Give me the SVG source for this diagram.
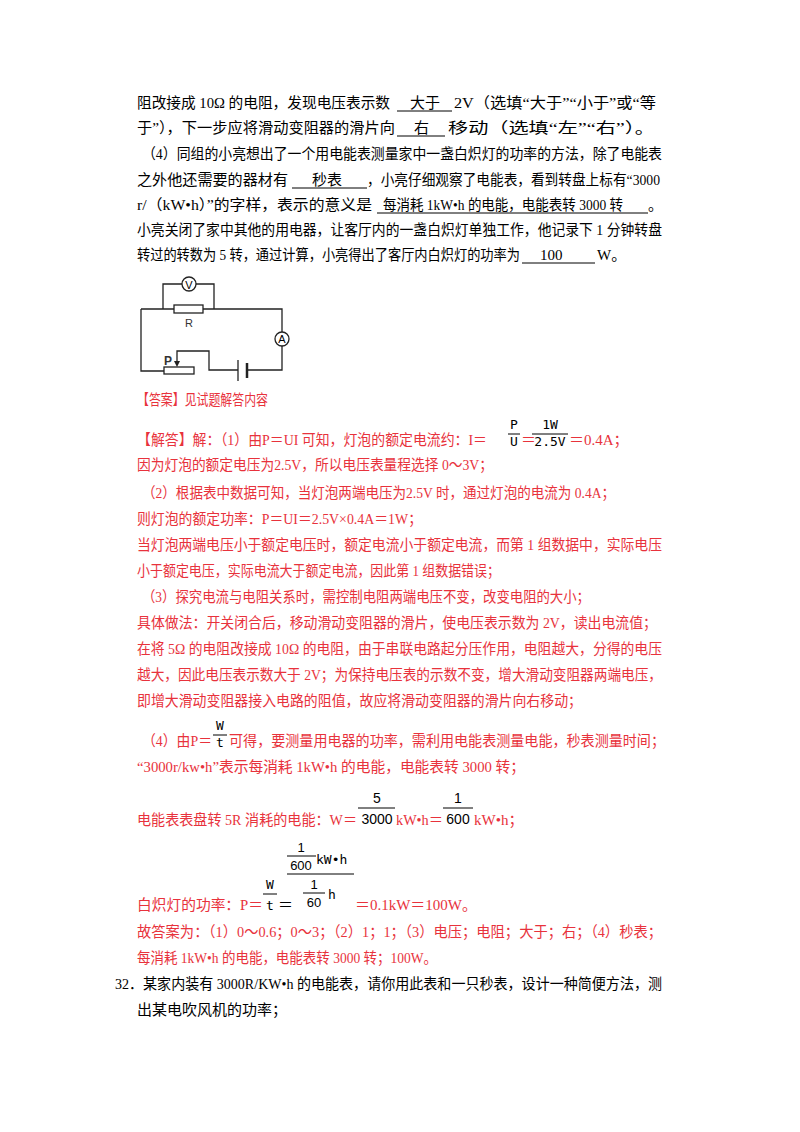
<svg xmlns="http://www.w3.org/2000/svg" width="800" height="1132" viewBox="0 0 800 1132">
<style>
text{font-family:"Liberation Serif","Noto Sans CJK SC",serif;font-size:15px;fill:#000}
.r{fill:#e8323c}
.m{font-family:"DejaVu Sans Mono","Liberation Mono",monospace;font-size:13px;fill:#000}
.c{text-anchor:middle}
.u{stroke:#000;stroke-width:1}
.fl{stroke:#000;stroke-width:1}
.w{fill:none;stroke:#222;stroke-width:1.3}
</style>
<rect width="800" height="1132" fill="#fff"/>
<text x="137" y="108" textLength="253" lengthAdjust="spacingAndGlyphs">阻改接成 10Ω 的电阻，发现电压表示数</text>
<text x="410" y="108">大于</text><line class="u" x1="397" y1="111" x2="452" y2="111"/>
<text x="454" y="108" textLength="202" lengthAdjust="spacingAndGlyphs">2V（选填“大于”“小于”或“等</text>
<text x="137" y="133" textLength="258" lengthAdjust="spacingAndGlyphs">于”），下一步应将滑动变阻器的滑片向</text>
<text x="414" y="133">右</text><line class="u" x1="397" y1="136" x2="445" y2="136"/>
<text x="448" y="133" textLength="207" lengthAdjust="spacingAndGlyphs">移动（选填“左”“右”）。</text>
<text x="142" y="159" textLength="520" lengthAdjust="spacingAndGlyphs">（4）同组的小亮想出了一个用电能表测量家中一盏白炽灯的功率的方法，除了电能表</text>
<text x="137" y="185" textLength="151" lengthAdjust="spacingAndGlyphs">之外他还需要的器材有</text>
<text x="312" y="185">秒表</text><line class="u" x1="292" y1="188" x2="367" y2="188"/>
<text x="367" y="185" textLength="293" lengthAdjust="spacingAndGlyphs">，小亮仔细观察了电能表，看到转盘上标有“3000</text>
<text x="137" y="210" textLength="235" lengthAdjust="spacingAndGlyphs">r/（kW•h）”的字样，表示的意义是</text>
<text x="383" y="210" textLength="240" lengthAdjust="spacingAndGlyphs">每消耗 1kW•h 的电能，电能表转 3000 转</text><line class="u" x1="377" y1="213" x2="648" y2="213"/>
<text x="648" y="210">。</text>
<text x="137" y="235" textLength="525" lengthAdjust="spacingAndGlyphs">小亮关闭了家中其他的用电器，让客厅内的一盏白炽灯单独工作，他记录下 1 分钟转盘</text>
<text x="137" y="260" textLength="383" lengthAdjust="spacingAndGlyphs">转过的转数为 5 转，通过计算，小亮得出了客厅内白炽灯的功率为</text>
<text x="540" y="260">100</text><line class="u" x1="522" y1="263" x2="595" y2="263"/>
<text x="597" y="260">W。</text>

<g id="circuit">
<g id="wires">
<path class="w" d="M163 309V284H182M196 284H214V309"/>
<path class="w" d="M141 309H174M203 309H282V332M282 346V370H247M238 370H209V351H177V363M141 309V371H164"/>
</g>
<g id="voltmeter"><circle class="w" cx="189" cy="284" r="7"/><text x="189" y="288.5" class="c" style="font-family:'Liberation Sans',sans-serif;font-size:11px">V</text></g>
<g id="resistor"><rect class="w" x="174" y="305" width="29" height="8"/><text x="189" y="327" class="c" style="font-family:'Liberation Sans',sans-serif;font-size:11px;fill:#333">R</text></g>
<g id="ammeter"><circle class="w" cx="282" cy="339" r="7"/><text x="282" y="343" class="c" style="font-family:'Liberation Sans',sans-serif;font-size:11px">A</text></g>
<g id="battery"><line x1="238" y1="360" x2="238" y2="381" stroke="#222" stroke-width="1.3"/><line x1="247" y1="363" x2="247" y2="378" stroke="#222" stroke-width="2.5"/></g>
<g id="rheostat"><rect class="w" x="164" y="367" width="30" height="7"/><path d="M174 361L177 367L180 361Z" fill="#222"/><text x="164" y="365" style="font-family:'Liberation Sans',sans-serif;font-size:12px;font-weight:bold;fill:#333">P</text></g>
</g>

<text x="137" y="405" class="r" textLength="131" lengthAdjust="spacingAndGlyphs">【答案】见试题解答内容</text>
<text x="137" y="445" class="r" textLength="350" lengthAdjust="spacingAndGlyphs">【解答】解：（1）由P＝UI 可知，灯泡的额定电流约：I＝</text>
<text x="514" y="429" class="m c">P</text><line class="fl" x1="508" y1="434" x2="520" y2="434"/><text x="514" y="446" class="m c">U</text>
<text x="521" y="445" class="r">＝</text>
<text x="550" y="429" class="m c">1W</text><line class="fl" x1="532" y1="434" x2="568" y2="434"/><text x="550" y="446" class="m c">2.5V</text>
<text x="569" y="445" class="r">＝0.4A；</text>
<text x="137" y="470" class="r" textLength="356" lengthAdjust="spacingAndGlyphs">因为灯泡的额定电压为2.5V，所以电压表量程选择 0～3V；</text>
<text x="142" y="498" class="r" textLength="473" lengthAdjust="spacingAndGlyphs">（2）根据表中数据可知，当灯泡两端电压为2.5V 时，通过灯泡的电流为 0.4A；</text>
<text x="137" y="524" class="r" textLength="285" lengthAdjust="spacingAndGlyphs">则灯泡的额定功率：P＝UI＝2.5V×0.4A＝1W；</text>
<text x="137" y="550" class="r" textLength="525" lengthAdjust="spacingAndGlyphs">当灯泡两端电压小于额定电压时，额定电流小于额定电流，而第 1 组数据中，实际电压</text>
<text x="137" y="576" class="r" textLength="363" lengthAdjust="spacingAndGlyphs">小于额定电压，实际电流大于额定电流，因此第 1 组数据错误；</text>
<text x="142" y="602" class="r" textLength="448" lengthAdjust="spacingAndGlyphs">（3）探究电流与电阻关系时，需控制电阻两端电压不变，改变电阻的大小；</text>
<text x="137" y="628" class="r" textLength="520" lengthAdjust="spacingAndGlyphs">具体做法：开关闭合后，移动滑动变阻器的滑片，使电压表示数为 2V，读出电流值；</text>
<text x="137" y="654" class="r" textLength="525" lengthAdjust="spacingAndGlyphs">在将 5Ω 的电阻改接成 10Ω 的电阻，由于串联电路起分压作用，电阻越大，分得的电压</text>
<text x="137" y="680" class="r" textLength="525" lengthAdjust="spacingAndGlyphs">越大，因此电压表示数大于 2V；为保持电压表的示数不变，增大滑动变阻器两端电压，</text>
<text x="137" y="706" class="r" textLength="445" lengthAdjust="spacingAndGlyphs">即增大滑动变阻器接入电路的阻值，故应将滑动变阻器的滑片向右移动；</text>

<text x="142" y="746" class="r" textLength="70" lengthAdjust="spacingAndGlyphs">（4）由P＝</text>
<text x="220" y="730" class="m c">W</text><line class="fl" x1="213" y1="735" x2="227" y2="735"/><text x="220" y="747" class="m c">t</text>
<text x="229" y="746" class="r" textLength="436" lengthAdjust="spacingAndGlyphs">可得，要测量用电器的功率，需利用电能表测量电能，秒表测量时间；</text>
<text x="137" y="772" class="r" textLength="388" lengthAdjust="spacingAndGlyphs">“3000r/kw•h”表示每消耗 1kW•h 的电能，电能表转 3000 转；</text>
<text x="137" y="825" class="r" textLength="220" lengthAdjust="spacingAndGlyphs">电能表表盘转 5R 消耗的电能：W＝</text>
<text x="377" y="803" class="c" style="font-family:'Liberation Sans',sans-serif;font-size:14px">5</text><line class="fl" x1="358" y1="808" x2="395" y2="808"/><text x="377" y="824" class="c" style="font-family:'Liberation Sans',sans-serif;font-size:14px">3000</text>
<text x="396" y="825" class="r" textLength="47" lengthAdjust="spacingAndGlyphs">kW•h＝</text>
<text x="458" y="803" class="c" style="font-family:'Liberation Sans',sans-serif;font-size:14px">1</text><line class="fl" x1="443" y1="808" x2="473" y2="808"/><text x="458" y="824" class="c" style="font-family:'Liberation Sans',sans-serif;font-size:14px">600</text>
<text x="474" y="825" class="r">kW•h；</text>

<text x="137" y="910" class="r" textLength="126" lengthAdjust="spacingAndGlyphs">白炽灯的功率：P＝</text>
<text x="270" y="889" class="m c">W</text><line class="fl" x1="263" y1="894" x2="277" y2="894"/><text x="270" y="910" class="m c">t</text>
<text x="278" y="910" style="font-size:15px">＝</text>
<text x="301" y="852" class="c" style="font-family:'Liberation Sans',sans-serif;font-size:13px">1</text><line class="fl" x1="287" y1="856" x2="316" y2="856"/><text x="301" y="870" class="c" style="font-family:'Liberation Sans',sans-serif;font-size:13px">600</text>
<text x="316" y="864" class="m">kW•h</text>
<line class="fl" x1="287" y1="874" x2="354" y2="874"/>
<text x="314" y="889" class="c" style="font-family:'Liberation Sans',sans-serif;font-size:13px">1</text><line class="fl" x1="303" y1="893" x2="325" y2="893"/><text x="314" y="907" class="c" style="font-family:'Liberation Sans',sans-serif;font-size:13px">60</text>
<text x="328" y="899" class="m">h</text>
<text x="355" y="910" class="r" textLength="122" lengthAdjust="spacingAndGlyphs">＝0.1kW＝100W。</text>

<text x="137" y="937" class="r" textLength="525" lengthAdjust="spacingAndGlyphs">故答案为：（1）0～0.6；0～3；（2）1；1；（3）电压；电阻；大于；右；（4）秒表；</text>
<text x="137" y="963" class="r" textLength="300" lengthAdjust="spacingAndGlyphs">每消耗 1kW•h 的电能，电能表转 3000 转；100W。</text>
<text x="115" y="989" textLength="547" lengthAdjust="spacingAndGlyphs">32．某家内装有 3000R/KW•h 的电能表，请你用此表和一只秒表，设计一种简便方法，测</text>
<text x="137" y="1015" textLength="150" lengthAdjust="spacingAndGlyphs">出某电吹风机的功率；</text>
</svg>
